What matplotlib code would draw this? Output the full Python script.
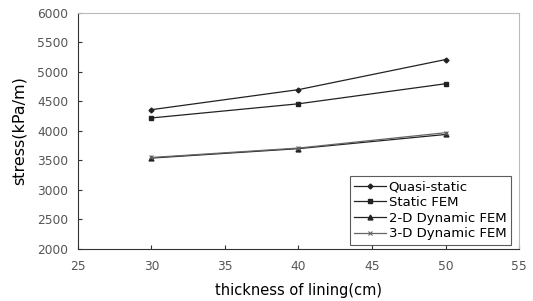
import matplotlib
matplotlib.use("Agg")
import matplotlib.pyplot as plt

# thickness of lining (cm)
thickness = [30, 40, 50]

# stress (kPa/m) per method
quasi_static = [4360, 4700, 5210]
static_fem = [4220, 4460, 4800]
dyn_2d_fem = [3540, 3700, 3940]
dyn_3d_fem = [3550, 3710, 3970]

plt.rcParams['font.family'] = ['DejaVu Sans']

fig = plt.figure(figsize=(5.33, 3.01), dpi=100)
ax = fig.add_axes([0.146, 0.173, 0.828, 0.784])

ax.plot(thickness, quasi_static, color='#222222', lw=0.9, marker='D', ms=2.5, label='Quasi-static')
ax.plot(thickness, static_fem, color='#222222', lw=0.9, marker='s', ms=3.5, label='Static FEM')
ax.plot(thickness, dyn_2d_fem, color='#222222', lw=0.9, marker='^', ms=3.5, label='2-D Dynamic FEM')
ax.plot(thickness, dyn_3d_fem, color='#666666', lw=0.9, marker='x', ms=3, mew=0.8, label='3-D Dynamic FEM')

ax.set_xlim(25, 55)
ax.set_ylim(2000, 6000)
ax.set_xticks(range(25, 56, 5))
ax.set_yticks(range(2000, 6001, 500))
ax.tick_params(direction='in', length=3, labelsize=8.8, labelcolor='#555555', color='#333333')
ax.tick_params(axis='x', pad=8)
ax.tick_params(axis='y', pad=7)

for side in ['top', 'right']:
    ax.spines[side].set_color('#bbbbbb')
for side in ['left', 'bottom']:
    ax.spines[side].set_color('#333333')

ax.set_xlabel('thickness of lining(cm)', fontsize=10.5, color='#000000', labelpad=7)
ax.set_ylabel('stress(kPa/m)', fontsize=11.5, color='#000000', labelpad=7)

leg = ax.legend(loc='lower right', fontsize=9.5, frameon=True, fancybox=False,
                edgecolor='#333333', handlelength=2.4, handletextpad=0.2,
                labelspacing=0.2, borderaxespad=0.3, borderpad=0.35,
                bbox_to_anchor=(0.99, 0.0))
leg.get_frame().set_linewidth(0.8)

fig.savefig('out.png', dpi=100)
